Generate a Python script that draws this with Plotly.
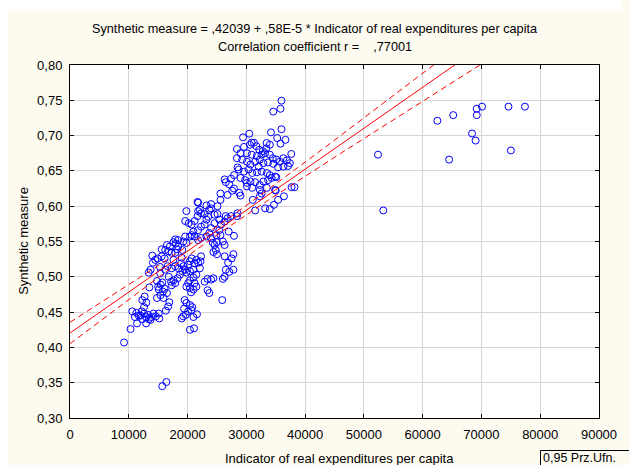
import numpy as np
import plotly.graph_objects as go

# Regression reported in the chart title
INTERCEPT = 0.42039
SLOPE = 0.58e-5
R_COEF = ",77001"
T_CRIT = 1.968

# Indicator of real expenditures per capita (x) and Synthetic measure (y)
x_out = [9200, 10300, 15700, 16400,
         52400, 53300, 62500, 65200, 64500, 68400, 69000, 69200, 69200, 70100, 74600, 75000, 77400]
y_out = [0.407, 0.426, 0.345, 0.351,
         0.673, 0.594, 0.721, 0.729, 0.666, 0.703, 0.693, 0.729, 0.738, 0.741, 0.741, 0.679, 0.741]

x_low = [10600, 11300, 11050, 11700, 12200, 12600, 12950, 13400, 13850, 14200, 14600, 15100, 15200,
         11400, 12950, 13700, 12300, 12000, 13300, 16300, 12600, 13000, 12300, 12700, 13500]
y_low = [0.451, 0.449, 0.443, 0.445, 0.451, 0.448, 0.443, 0.440, 0.443, 0.448, 0.444, 0.448, 0.441,
         0.434, 0.434, 0.439, 0.440, 0.445, 0.446, 0.452, 0.457, 0.4635, 0.467, 0.472, 0.485]

x_col = [13400, 13700, 14100, 14500, 14900, 15300, 15600, 16100, 15600, 16200, 16800, 17300, 16500,
         17000, 17600, 18000, 17900, 18400, 18200, 14800, 15000, 15400, 15100, 15800, 16100, 15400,
         15900, 16500, 16900, 14800, 15700, 16700, 14000, 15350]
y_col = [0.506, 0.510, 0.520, 0.524, 0.526, 0.514, 0.529, 0.526, 0.539, 0.538, 0.536, 0.534, 0.545,
         0.543, 0.549, 0.547, 0.553, 0.552, 0.539, 0.494, 0.486, 0.489, 0.482, 0.479, 0.483, 0.474,
         0.470, 0.477, 0.464, 0.470, 0.492, 0.458, 0.530, 0.505]

x_mid = [16800, 17200, 17600, 17300, 17900, 18300, 18700, 19100, 19600, 19800, 19300, 20100, 20400,
         20700, 20400, 21000, 21200, 21500, 21800, 22200, 22300, 22100, 21500, 21000, 20400, 19800,
         20100, 21000, 21200, 19000, 18900, 18500, 17900, 17600, 17300, 16600, 16200]
y_mid = [0.500, 0.493, 0.495, 0.488, 0.491, 0.498, 0.503, 0.508, 0.510, 0.506, 0.515, 0.517, 0.522,
         0.526, 0.508, 0.510, 0.519, 0.524, 0.520, 0.522, 0.529, 0.512, 0.503, 0.499, 0.495, 0.486,
         0.491, 0.482, 0.491, 0.527, 0.519, 0.512, 0.515, 0.524, 0.512, 0.515, 0.510]

x_dip = [19500, 19800, 20400, 20650, 19250, 19000, 20100, 20400, 21100, 21500, 20400, 20800, 21000,
         20600, 19700, 19400, 21600]
y_dip = [0.467, 0.463, 0.460, 0.453, 0.444, 0.441, 0.451, 0.425, 0.427, 0.486, 0.484, 0.457, 0.443,
         0.478, 0.446, 0.455, 0.447]

x_tail = [22900, 23400, 24000, 24400, 23700, 23400, 25900, 26300, 26900, 27500, 26500, 27100, 26300,
          26000, 27800, 27800, 24400, 24800, 25000, 24600, 25000, 27900, 27000]
y_tail = [0.493, 0.497, 0.496, 0.498, 0.477, 0.481, 0.467, 0.529, 0.520, 0.526, 0.510, 0.507, 0.500,
          0.497, 0.532, 0.510, 0.535, 0.538, 0.532, 0.545, 0.549, 0.558, 0.564]

x_band = [19800, 19600, 20200, 20700, 21200, 21700, 21800, 21700, 22100, 22300, 22900, 23200, 23500,
          23700, 24000, 24600, 25100, 25400, 24600, 24000, 22900, 22300, 21800, 21000, 20700, 20400,
          21200, 21800, 22300, 23200, 23700, 24000, 24300, 24900, 25400, 25700, 26300, 26800, 27400,
          26500, 25600, 26000, 26300, 19600, 19300, 19800, 19100, 18400, 17900]
y_band = [0.593, 0.579, 0.576, 0.574, 0.579, 0.586, 0.593, 0.606, 0.595, 0.590, 0.589, 0.581, 0.585,
          0.595, 0.597, 0.588, 0.589, 0.581, 0.576, 0.569, 0.574, 0.571, 0.566, 0.564, 0.559, 0.557,
          0.557, 0.552, 0.555, 0.557, 0.562, 0.555, 0.548, 0.559, 0.566, 0.574, 0.578, 0.583, 0.586,
          0.586, 0.559, 0.550, 0.545, 0.557, 0.550, 0.548, 0.538, 0.543, 0.534]

x_up = [25600, 26300, 26500, 27100, 27400, 27900, 28500, 27900, 26800, 28800, 25600, 21800, 24000,
        25100, 28500, 27600, 23200]
y_up = [0.618, 0.638, 0.634, 0.631, 0.639, 0.644, 0.655, 0.625, 0.616, 0.619, 0.609, 0.605, 0.603,
        0.600, 0.590, 0.622, 0.601]

x_top = [35980, 34580, 35810, 35980, 34190, 30500, 29440, 35250, 36650, 35810, 33460, 37650,
         28400, 29600, 30600, 30900, 31300, 31700, 32200, 32800, 33400, 34000,
         29000, 30100, 30900, 31800, 32600, 33200, 34000, 34500, 35100, 35700, 36300, 36900, 37400, 37100,
         28400, 29300, 30100, 30700, 31500, 32300, 32900, 33700, 34600, 35400, 36300,
         28700, 29600, 30400, 31000, 31800, 32600, 33500, 34000, 34900, 32100,
         29000, 29800, 30700, 31500, 32300, 32900, 33700, 34300, 35100,
         30100, 31000, 32300, 32600, 33500, 34900, 37700, 38200, 30100,
         29000, 31100, 32300, 35400, 36400, 34700, 33200, 34000, 31500, 35000, 28400]
y_top = [0.7495, 0.734, 0.738, 0.709, 0.7046, 0.7027, 0.6975, 0.6966, 0.694, 0.6885, 0.6895, 0.674,
         0.681, 0.684, 0.687, 0.690, 0.690, 0.685, 0.680, 0.678, 0.682, 0.687,
         0.675, 0.675, 0.673, 0.671, 0.673, 0.675, 0.673, 0.668, 0.666, 0.663, 0.668, 0.665, 0.661, 0.657,
         0.668, 0.666, 0.663, 0.659, 0.663, 0.666, 0.661, 0.662, 0.660, 0.655, 0.656,
         0.652, 0.649, 0.652, 0.647, 0.648, 0.649, 0.647, 0.644, 0.642, 0.656,
         0.640, 0.637, 0.635, 0.634, 0.630, 0.635, 0.637, 0.640, 0.641,
         0.628, 0.626, 0.623, 0.618, 0.626, 0.623, 0.627, 0.627, 0.633,
         0.615, 0.609, 0.614, 0.609, 0.614, 0.602, 0.597, 0.596, 0.594, 0.622, 0.586]

x_all = np.array(x_out + x_low + x_col + x_mid + x_dip + x_tail + x_band + x_up + x_top, dtype=float)
y_all = np.array(y_out + y_low + y_col + y_mid + y_dip + y_tail + y_band + y_up + y_top, dtype=float)

x_ticks = list(range(0, 90001, 10000))
y_ticks = [0.30, 0.35, 0.40, 0.45, 0.50, 0.55, 0.60, 0.65, 0.70, 0.75, 0.80]
y_tick_text = [f"{v:.2f}".replace(".", ",") for v in y_ticks]

# regression line and 95% confidence band for the mean
n = len(x_all)
resid = y_all - (INTERCEPT + SLOPE * x_all)
s = np.sqrt(np.sum(resid ** 2) / (n - 2))
xbar = x_all.mean()
sxx = np.sum((x_all - xbar) ** 2)
xl = np.linspace(0, 90000, 400)
yl = INTERCEPT + SLOPE * xl
hw = T_CRIT * s * np.sqrt(1.0 / n + (xl - xbar) ** 2 / sxx)

FONT = "Liberation Sans, Arial, sans-serif"
BG = "#FDFAF0"

fig = go.Figure()
fig.add_trace(go.Scatter(x=x_all, y=y_all, mode="markers",
                         marker=dict(symbol="circle-open", size=7, color="#0000FF",
                                     line=dict(width=1, color="#0000FF")),
                         cliponaxis=True, showlegend=False))
fig.add_trace(go.Scatter(x=xl, y=yl, mode="lines", line=dict(color="#FF0000", width=1), showlegend=False))
fig.add_trace(go.Scatter(x=xl, y=yl + hw, mode="lines",
                         line=dict(color="#FF0000", width=1, dash="6px,4px"), showlegend=False))
fig.add_trace(go.Scatter(x=xl, y=yl - hw, mode="lines",
                         line=dict(color="#FF0000", width=1, dash="6px,4px"), showlegend=False))

L, R, T, B = 70, 21, 65, 47
W, H = 629, 465
pw, ph = W - L - R, H - T - B


def px_x(p):
    return (p - L) / pw


def px_y(p):
    return (H - B - p) / ph


axis_common = dict(showline=True, linecolor="#000000", linewidth=1, mirror="ticks",
                   ticks="inside", ticklen=4, tickcolor="#000000", tickwidth=1,
                   showgrid=True, gridcolor="#D6D6D6", gridwidth=1, zeroline=False,
                   tickfont=dict(family=FONT, size=13, color="#000000"),
                   ticklabelstandoff=4)

fig.update_xaxes(range=[0, 90000], tickvals=x_ticks, ticktext=[str(v) for v in x_ticks], **axis_common)
fig.update_yaxes(range=[0.30, 0.80], tickvals=y_ticks, ticktext=y_tick_text, **axis_common)

annots = [
    dict(text="Synthetic measure = ,42039 + ,58E-5 * Indicator of real expenditures per capita",
         x=px_x(319), y=px_y(29), font=dict(size=12.7)),
    dict(text="Correlation coefficient r =\u00a0\u00a0\u00a0\u00a0" + R_COEF,
         x=px_x(319), y=px_y(47.3), font=dict(size=12.7)),
    dict(text="Indicator of real expenditures per capita", x=px_x(344), y=px_y(458),
         font=dict(size=13)),
    dict(text="Synthetic measure", x=px_x(22), y=px_y(241), textangle=-90, font=dict(size=13)),
]
layout_annots = []
for a in annots:
    f = dict(family=FONT, color="#000000")
    f.update(a.pop("font"))
    layout_annots.append(dict(xref="paper", yref="paper", showarrow=False,
                              xanchor="center", yanchor="middle", font=f, **a))
# legend label (box drawn as a shape so it can run past the page edge like the original)
layout_annots.append(dict(text="0,95 Prz.Ufn.", xref="paper", yref="paper", showarrow=False,
                          x=px_x(550), y=px_y(450), xanchor="left", yanchor="top",
                          borderpad=0, font=dict(family=FONT, size=12.5, color="#000000")))

shapes = [
    dict(type="rect", xref="paper", yref="paper", x0=px_x(548.5), x1=px_x(W + 20),
         y0=px_y(H + 20), y1=px_y(450.5), fillcolor=BG,
         line=dict(width=1, color="#000000"), layer="below"),
    dict(type="rect", xref="paper", yref="paper", x0=px_x(-2), x1=px_x(7), y0=px_y(H + 2), y1=px_y(-2),
         fillcolor="#FFFFFF", line=dict(width=0), layer="above"),
    dict(type="rect", xref="paper", yref="paper", x0=px_x(-2), x1=px_x(W + 2), y0=px_y(11), y1=px_y(-2),
         fillcolor="#FFFFFF", line=dict(width=0), layer="above"),
]

fig.update_layout(width=W, height=H, autosize=False,
                  margin=dict(l=L, r=R, t=T, b=B, pad=0),
                  paper_bgcolor=BG, plot_bgcolor="#FFFFFF",
                  annotations=layout_annots, shapes=shapes, showlegend=False)

fig.write_html("out.html")
